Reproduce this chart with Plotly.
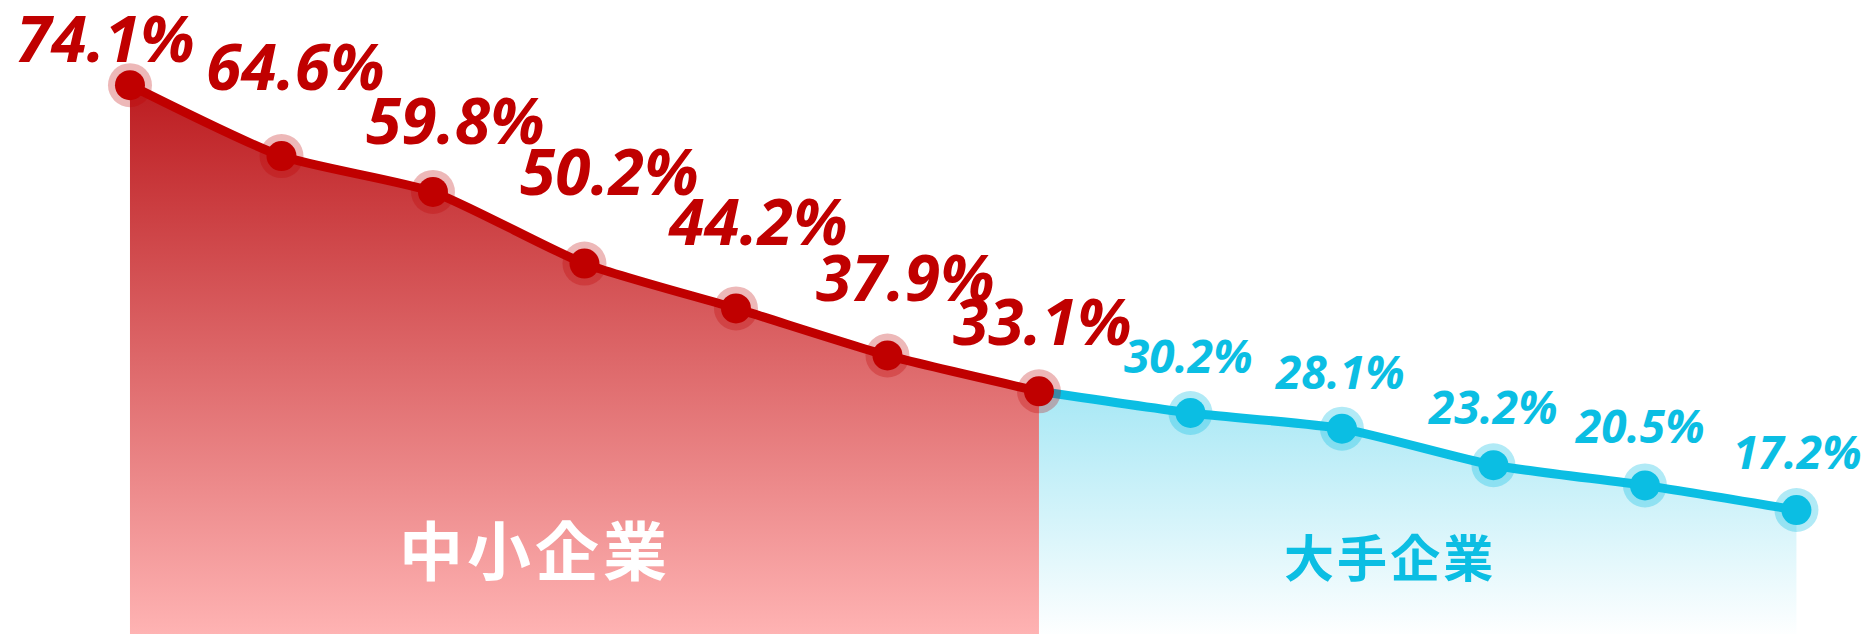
import plotly.graph_objects as go

# data
sme_values = [74.1, 64.6, 59.8, 50.2, 44.2, 37.9, 33.1]
large_values = [30.2, 28.1, 23.2, 20.5, 17.2]
group_labels = ["中小企業", "大手企業"]

RED = "#C00000"
BLUE = "#0BBEE3"

# label nudges (px): right shift, and height of digit baseline above the point
red_dx = [-24, 14, 23, 25, 22, 18, 4]
red_dy = [22, 65, 47, 67, 62, 53, 45]
blue_dx = [-2, -2, -1, -5, 1]
blue_dy = [39, 39, 41, 42, 41]

red_x = list(range(len(sme_values)))
blue_x = list(range(len(sme_values) - 1, len(sme_values) + len(large_values)))
blue_y = [sme_values[-1]] + large_values

fig = go.Figure()

# red area + line
fig.add_trace(go.Scatter(
    x=red_x, y=sme_values, mode="lines", fill="tozeroy",
    line=dict(color=RED, width=9, shape="spline", smoothing=0.6),
    fillgradient=dict(type="vertical", start=0, stop=max(sme_values),
                      colorscale=[[0, "rgb(255,180,180)"], [1, "rgb(188,28,32)"]]),
    hoverinfo="skip", showlegend=False,
))

# blue area + line
fig.add_trace(go.Scatter(
    x=blue_x, y=blue_y, mode="lines", fill="tozeroy",
    line=dict(color=BLUE, width=9, shape="spline", smoothing=0.6),
    fillgradient=dict(type="vertical", start=0, stop=max(blue_y),
                      colorscale=[[0, "rgba(11,190,227,0.0)"], [1, "rgba(11,190,227,0.36)"]]),
    hoverinfo="skip", showlegend=False,
))

# markers with halo
for xs, ys, col, halo in [
    (blue_x[1:], large_values, BLUE, "rgba(11,190,227,0.32)"),
    (red_x, sme_values, RED, "rgba(192,0,0,0.28)"),
]:
    fig.add_trace(go.Scatter(x=xs, y=ys, mode="markers",
                             marker=dict(size=44, color=halo, line=dict(width=0)),
                             hoverinfo="skip", showlegend=False))
    fig.add_trace(go.Scatter(x=xs, y=ys, mode="markers",
                             marker=dict(size=30, color=col, line=dict(width=0)),
                             hoverinfo="skip", showlegend=False))

annotations = []
RED_SIZE = 64
BLUE_SIZE = 46
for i, v in enumerate(sme_values):
    annotations.append(dict(
        x=red_x[i], y=v, text=f"{v}%", showarrow=False,
        xanchor="center", yanchor="bottom",
        xshift=red_dx[i], yshift=red_dy[i] - 0.293 * RED_SIZE - 1,
        font=dict(family="Open Sans", size=RED_SIZE, color=RED, weight="bold", style="italic"),
    ))
for i, v in enumerate(large_values):
    annotations.append(dict(
        x=blue_x[i + 1], y=v, text=f"{v}%", showarrow=False,
        xanchor="center", yanchor="bottom",
        xshift=blue_dx[i], yshift=blue_dy[i] - 0.293 * BLUE_SIZE - 1,
        font=dict(family="Open Sans", size=BLUE_SIZE, color=BLUE, weight="bold", style="italic"),
    ))

annotations.append(dict(
    xref="paper", yref="paper", x=533 / 1874, y=1 - 547 / 634,
    text="\u200a".join(group_labels[0]), showarrow=False, xanchor="center", yanchor="middle",
    font=dict(family="Noto Sans CJK JP", size=64, color="white", weight="bold"),
))
annotations.append(dict(
    xref="paper", yref="paper", x=1388 / 1874, y=1 - 555 / 634,
    text="\u200a".join(group_labels[1]), showarrow=False, xanchor="center", yanchor="middle",
    font=dict(family="Noto Sans CJK JP", size=50, color=BLUE, weight="bold"),
))

fig.update_layout(
    width=1874, height=634,
    margin=dict(l=0, r=0, t=0, b=0, pad=0),
    paper_bgcolor="white", plot_bgcolor="white",
    xaxis=dict(visible=False, range=[-0.858, 11.512], fixedrange=True),
    yaxis=dict(visible=False, range=[0.6, 85.5], fixedrange=True),
    annotations=annotations,
)

fig.write_html("out.html", config={"displayModeBar": False},
               post_script="document.body.style.margin='0';")
